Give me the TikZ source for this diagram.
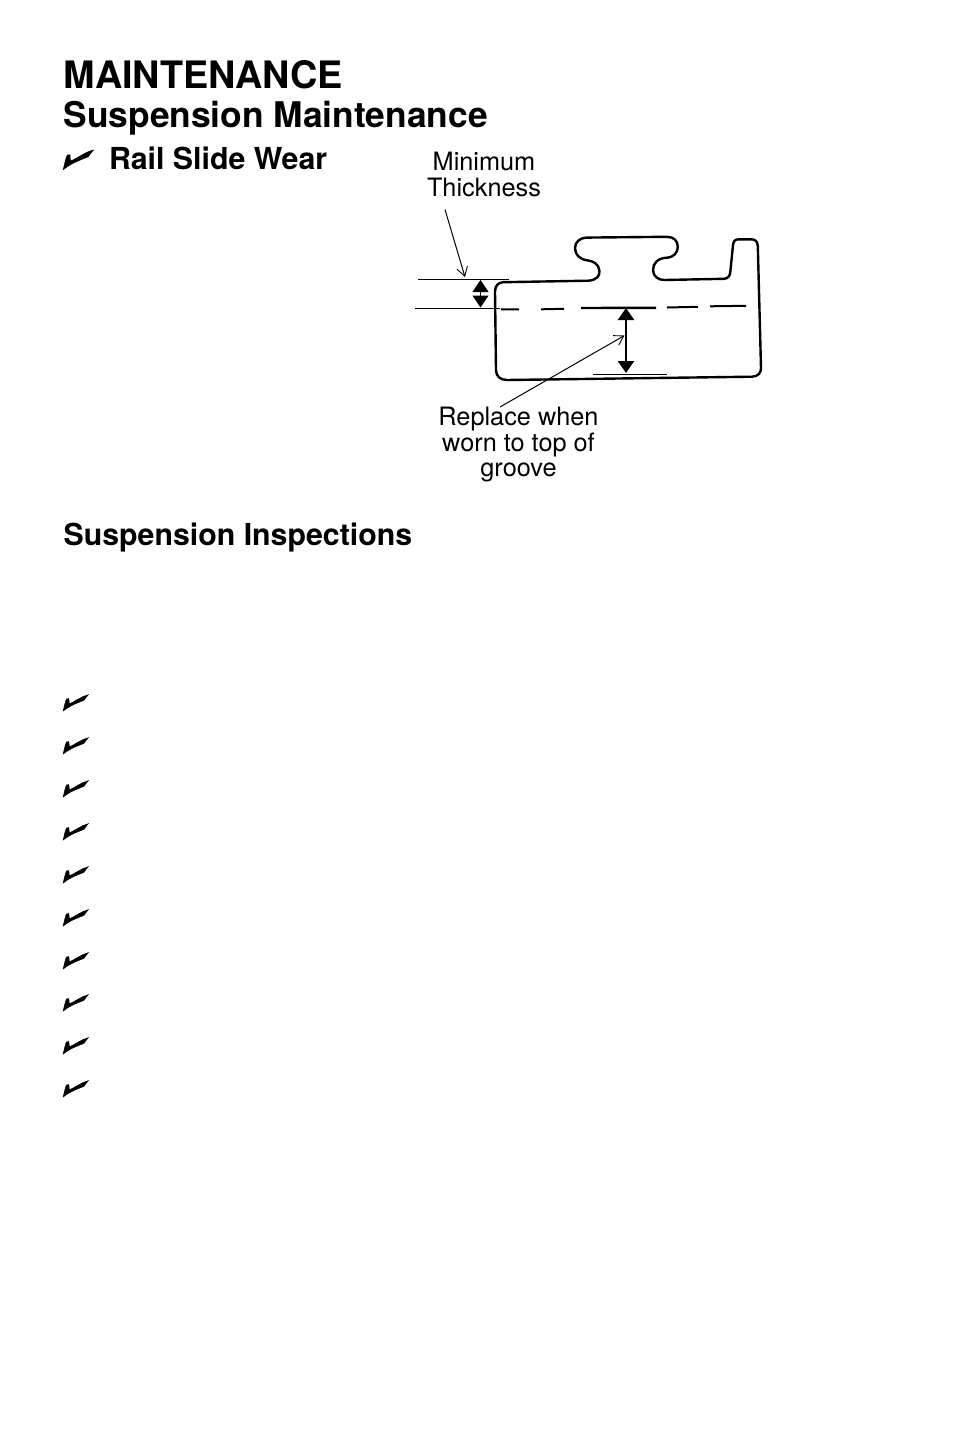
\documentclass[tikz,border=0pt]{standalone}
\usepackage{fontspec}
\setmainfont{TeX Gyre Heros}
\usetikzlibrary{arrows.meta}
\tikzset{
  txt/.style={inner sep=0pt,outer sep=0pt,anchor=base west,font=\fontsize{#1}{#1}\selectfont\bfseries},
  lbl/.style={inner sep=0pt,outer sep=0pt,align=center,anchor=north,font=\fontsize{25.3}{25.4}\selectfont},
  thin line/.style={line width=1pt,black},
  rail/.style={line width=2.4pt,black,line join=round},
  wear/.style={line width=2pt,black},
  leader/.style={line width=1pt,black,-{Straight Barb[length=9pt,width=11pt,line width=0.9pt]}},
  dim/.style={black,{Triangle[length=#1,width=16pt]}-{Triangle[length=#1,width=16pt]}},
  check/.pic={\filldraw[black,line width=0.5pt] (63.3,169.6) .. controls (64.5,164) and (65.5,159) .. (67.3,155) -- (70,154.8) .. controls (69.8,157) and (70,159) .. (70.7,161) .. controls (78,158) and (85,152) .. (93.5,150) .. controls (91,152) and (90,155) .. (88.3,156.7) .. controls (82,159.5) and (72,162.5) .. (63.3,169.6) -- cycle;}
}
\begin{document}
\begin{tikzpicture}[x=1pt,y=-1pt]
\useasboundingbox (0,0) rectangle (954,1454);
\node[txt=37.8] (title) at (63.6,88) {MAINTENANCE};
\node[txt=35.35] (sub) at (63.6,127) {Suspension Maintenance};
\node[txt=30.3] (rail) at (109,169.5) {Rail Slide Wear};
\node[txt=30.3] (insp) at (63.6,545) {Suspension Inspections};
\pic at (0,0) {check};
\foreach \y in {703,746,789,832,875,918,961,1003,1046,1089}
  \pic[xshift=10.7pt,yshift=-\y*1pt+160*0.83*1pt+0pt,scale=0.83] at (0,0) {check};
% rail profile
\draw[rail] (495,292) .. controls (495,286) and (498,282.5) .. (503,282.2)
  -- (588,280.7) .. controls (596,280.5) and (600,276) .. (599.5,271)
  .. controls (599,264) and (593,261) .. (588,260.5)
  .. controls (580,259.5) and (575,255) .. (575,248)
  .. controls (575,242) and (580,238) .. (586,237.6)
  -- (667,236.8) .. controls (674,236.8) and (677.8,241) .. (677.8,247)
  .. controls (677.8,253) and (673,257.5) .. (667,257.7)
  .. controls (658,258) and (653,263) .. (653,270)
  .. controls (653,276) and (658,280) .. (664,280)
  -- (724,278.8) .. controls (728,278.5) and (730,276) .. (730.3,272)
  -- (733,245) .. controls (733.5,241) and (735,239.3) .. (739,239.3)
  -- (751,239.3) .. controls (755,239.3) and (757.5,241) .. (757.8,246)
  -- (761,368) .. controls (761,373) and (758,376.5) .. (752,376.7)
  -- (507,380) .. controls (500,380) and (496,376) .. (496,370) -- cycle;
% dashed wear line
\draw[wear] (501,309.3) -- (519,309.5);
\draw[wear] (541,309.3) -- (564,308.8);
\draw[line width=2.4pt] (581,308) -- (656,307.8);
\draw[wear] (667,307.5) -- (698,306.8);
\draw[wear] (710,306.3) -- (746,305.8);
% reference lines
\coordinate (a1) at (418,279.3); \coordinate (a2) at (509,279.3);
\coordinate (b1) at (415,308.3); \coordinate (b2) at (500,308.3);
\coordinate (c1) at (593,374.5); \coordinate (c2) at (667,374.5);
\draw[thin line] (a1) -- (a2);
\draw[thin line] (b1) -- (b2);
\draw[thin line] (c1) -- (c2);
% dimension arrows
\coordinate (d1) at (480.5,280); \coordinate (d2) at (480.5,307.5);
\coordinate (e1) at (626,308); \coordinate (e2) at (626,373);
\draw[dim=12pt,line width=1pt] (d1) -- (d2);
\draw[dim=12pt,line width=2.4pt] (e1) -- (e2);
% labels
\node[lbl] (minth) at (484,152.3) {Minimum\\Thickness};
\node[lbl] (repl) at (518.5,407.5) {Replace when\\worn to top of\\groove};
\coordinate (m0) at (445,209.5); \coordinate (m1) at (465,277);
\coordinate (r0) at (500,407); \coordinate (r1) at (624.5,335.5);
\draw[leader] (m0) -- (m1);
\draw[leader] (r0) -- (r1);
\end{tikzpicture}
\end{document}
